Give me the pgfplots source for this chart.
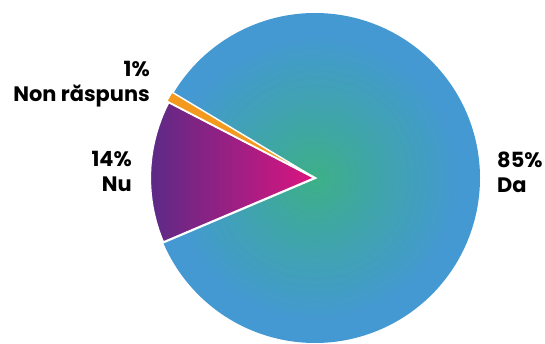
\documentclass[border=0pt]{standalone}
\usepackage{pgfplots}
\pgfplotsset{compat=1.18}
\usepackage{fontspec}
\setmainfont{Poppins}
\definecolor{dacenter}{HTML}{3DB087}
\definecolor{damid}{HTML}{3FA5A8}
\definecolor{daouter}{HTML}{4499D3}
\definecolor{nuleft}{HTML}{5C2A86}
\definecolor{nuright}{HTML}{DC1480}
\definecolor{nonc}{HTML}{F39A1E}
\pgfdeclareradialshading{dashade}{\pgfpoint{0bp}{0bp}}{color(0bp)=(dacenter); color(9bp)=(damid); color(22bp)=(daouter); color(50bp)=(daouter)}
% data (percent)
\def\vDa{85}
\def\vNu{14}
\def\vNon{1}
\begin{document}
\begin{tikzpicture}
\pgfmathsetmacro\aS{203}
\pgfmathsetmacro\aDa{\aS+\vDa*3.6}
\pgfmathsetmacro\aNon{\aDa+\vNon*3.6}
\pgfmathsetmacro\aNu{\aNon+\vNu*3.6}
\begin{axis}[hide axis, scale only axis, width=545bp, height=344bp,
  xmin=0, xmax=545, ymin=0, ymax=344, clip=false]
\path (axis cs:0,0) rectangle (axis cs:545,344);
% Da (full disc background, radial gradient)
\addplot[shading=dashade, draw=none, domain=0:360, samples=241, variable=\t]
  ({315+165*cos(t)},{166+165*sin(t)}) -- cycle;
% Nu
\addplot[left color=nuleft, right color=nuright, draw=white, line width=2.2pt, line join=miter,
  domain=\aNon:\aNu, samples=40, variable=\t]
  ({315+165*cos(t)},{166+165*sin(t)}) -- (axis cs:315,166) -- cycle;
% Non raspuns
\addplot[fill=nonc, draw=white, line width=1.5pt, domain=\aDa:\aNon, samples=5, variable=\t]
  ({315+167*cos(t)},{166+167*sin(t)}) -- (axis cs:315,166) -- cycle;
\begin{scope}[every node/.style={font=\fontsize{21}{24}\selectfont\bfseries, inner sep=0pt}]
\node[anchor=base east] at (axis cs:150,267) {1\%};
\node[anchor=base east] at (axis cs:150,242) {Non răspuns};
\node[anchor=base east] at (axis cs:132,177) {14\%};
\node[anchor=base east] at (axis cs:132,152) {Nu};
\node[anchor=base west] at (axis cs:497,176) {85\%};
\node[anchor=base west] at (axis cs:497,151) {Da};
\end{scope}
\end{axis}
\end{tikzpicture}
\end{document}
